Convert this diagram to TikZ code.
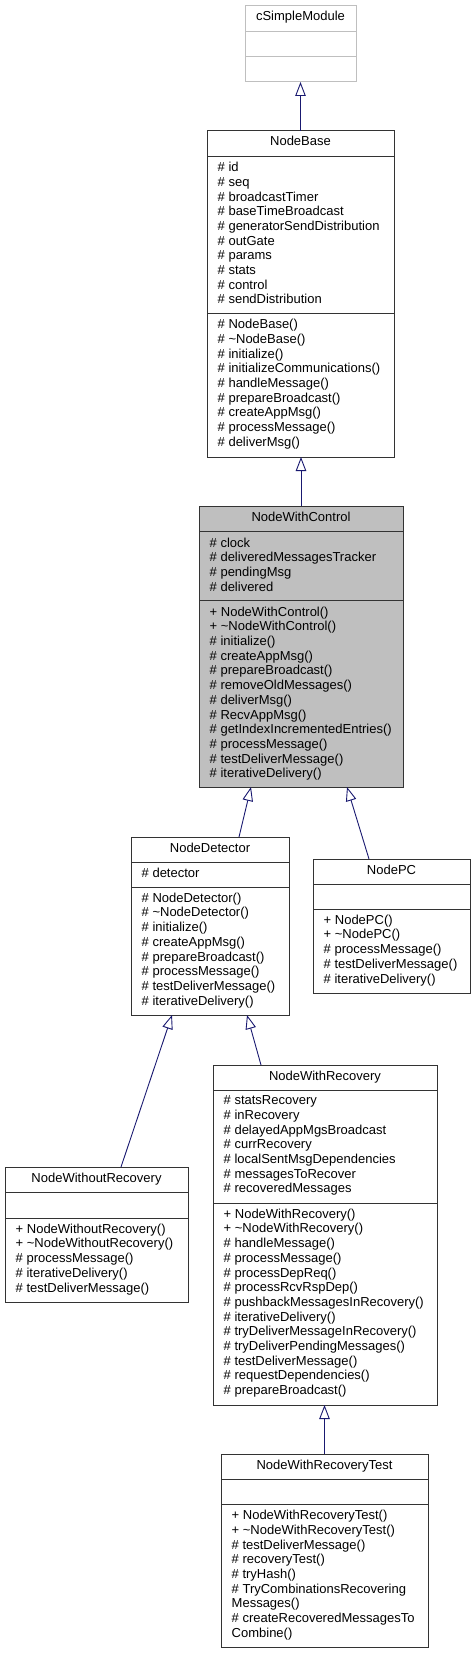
\documentclass[tikz,border=0pt]{standalone}
\usepackage{fontspec}
\setmainfont{Liberation Sans}
\usetikzlibrary{arrows.meta,positioning}
\definecolor{edgeblue}{HTML}{191970}
\definecolor{boxgrey}{HTML}{BFBFBF}
\newcommand{\umlfont}{\fontsize{13}{14.7}\selectfont}

\begin{document}
\begin{tikzpicture}[x=1pt,y=-1pt,
  classbox/.style={draw=black!80,line width=1pt,inner sep=0pt,outer sep=0pt},
  extbox/.style={draw=boxgrey,line width=1pt,inner sep=0pt,outer sep=0pt},
  classname/.style={anchor=base,inner sep=0pt,font=\umlfont},
  members/.style={anchor=north west,inner sep=0pt,align=left,font=\umlfont},
  sepline/.style={black!80,line width=1pt},
  inherit/.style={draw=edgeblue,line width=0.9pt,-{Triangle[open,length=14pt,width=10.5pt]}}]
\useasboundingbox (0,0) rectangle (475,1653);

% class boxes
\node[extbox,minimum width=111pt,minimum height=76pt] (cSimpleModule) at (300.5,44) {};
\node[classbox,minimum width=187pt,minimum height=326pt] (NodeBase) at (300.5,294) {};
\node[classbox,fill=boxgrey,minimum width=204pt,minimum height=281pt] (NodeWithControl) at (301,646.5) {};
\node[classbox,minimum width=158pt,minimum height=178pt] (NodeDetector) at (210,926) {};
\node[classbox,minimum width=157pt,minimum height=134pt] (NodePC) at (391.5,926) {};
\node[classbox,minimum width=183pt,minimum height=135pt] (NodeWithoutRecovery) at (96.5,1234.5) {};
\node[classbox,minimum width=224pt,minimum height=340pt] (NodeWithRecovery) at (325,1235) {};
\node[classbox,minimum width=207pt,minimum height=193pt] (NodeWithRecoveryTest) at (324.5,1550.5) {};

% compartments
\draw[boxgrey,line width=1pt] (cSimpleModule.west |- 0,32) -- (cSimpleModule.east |- 0,32);
\draw[boxgrey,line width=1pt] (cSimpleModule.west |- 0,57) -- (cSimpleModule.east |- 0,57);
\draw[sepline] (NodeBase.west |- 0,156.3) -- (NodeBase.east |- 0,156.3);
\draw[sepline] (NodeBase.west |- 0,313.3) -- (NodeBase.east |- 0,313.3);
\draw[sepline] (NodeWithControl.west |- 0,531.5) -- (NodeWithControl.east |- 0,531.5);
\draw[sepline] (NodeWithControl.west |- 0,600.5) -- (NodeWithControl.east |- 0,600.5);
\draw[sepline] (NodeDetector.west |- 0,862) -- (NodeDetector.east |- 0,862);
\draw[sepline] (NodeDetector.west |- 0,887) -- (NodeDetector.east |- 0,887);
\draw[sepline] (NodePC.west |- 0,884) -- (NodePC.east |- 0,884);
\draw[sepline] (NodePC.west |- 0,909) -- (NodePC.east |- 0,909);
\draw[sepline] (NodeWithoutRecovery.west |- 0,1192) -- (NodeWithoutRecovery.east |- 0,1192);
\draw[sepline] (NodeWithoutRecovery.west |- 0,1218) -- (NodeWithoutRecovery.east |- 0,1218);
\draw[sepline] (NodeWithRecovery.west |- 0,1090) -- (NodeWithRecovery.east |- 0,1090);
\draw[sepline] (NodeWithRecovery.west |- 0,1203) -- (NodeWithRecovery.east |- 0,1203);
\draw[sepline] (NodeWithRecoveryTest.west |- 0,1479) -- (NodeWithRecoveryTest.east |- 0,1479);
\draw[sepline] (NodeWithRecoveryTest.west |- 0,1504.5) -- (NodeWithRecoveryTest.east |- 0,1504.5);

% names
\node[classname] (cSimpleModuleName) at ([yshift=-15pt]cSimpleModule.north) {cSimpleModule};
\node[classname] (NodeBaseName) at ([yshift=-15pt]NodeBase.north) {NodeBase};
\node[classname] (NodeWithControlName) at ([yshift=-15pt]NodeWithControl.north) {NodeWithControl};
\node[classname] (NodeDetectorName) at ([yshift=-15pt]NodeDetector.north) {NodeDetector};
\node[classname] (NodePCName) at ([yshift=-15pt]NodePC.north) {NodePC};
\node[classname] (NodeWithoutRecoveryName) at ([yshift=-15pt]NodeWithoutRecovery.north) {NodeWithoutRecovery};
\node[classname] (NodeWithRecoveryName) at ([yshift=-15pt]NodeWithRecovery.north) {NodeWithRecovery};
\node[classname] (NodeWithRecoveryTestName) at ([yshift=-15pt]NodeWithRecoveryTest.north) {NodeWithRecoveryTest};

% members
\node[members] (NodeBaseAttr) at (217.5,162) {\# id\\\# seq\\\# broadcastTimer\\\# baseTimeBroadcast\\\# generatorSendDistribution\\\# outGate\\\# params\\\# stats\\\# control\\\# sendDistribution};
\node[members] (NodeBaseOps) at (217.5,319) {\# NodeBase()\\\# \textasciitilde NodeBase()\\\# initialize()\\\# initializeCommunications()\\\# handleMessage()\\\# prepareBroadcast()\\\# createAppMsg()\\\# processMessage()\\\# deliverMsg()};
\node[members] (NodeWithControlAttr) at (209.5,537.5) {\# clock\\\# deliveredMessagesTracker\\\# pendingMsg\\\# delivered};
\node[members] (NodeWithControlOps) at (209.5,606.5) {+ NodeWithControl()\\+ \textasciitilde NodeWithControl()\\\# initialize()\\\# createAppMsg()\\\# prepareBroadcast()\\\# removeOldMessages()\\\# deliverMsg()\\\# RecvAppMsg()\\\# getIndexIncrementedEntries()\\\# processMessage()\\\# testDeliverMessage()\\\# iterativeDelivery()};
\node[members] (NodeDetectorAttr) at (141.5,867.6) {\# detector};
\node[members] (NodeDetectorOps) at (141.5,892.6) {\# NodeDetector()\\\# \textasciitilde NodeDetector()\\\# initialize()\\\# createAppMsg()\\\# prepareBroadcast()\\\# processMessage()\\\# testDeliverMessage()\\\# iterativeDelivery()};
\node[members] (NodePCOps) at (323.5,914.6) {+ NodePC()\\+ \textasciitilde NodePC()\\\# processMessage()\\\# testDeliverMessage()\\\# iterativeDelivery()};
\node[members] (NodeWithoutRecoveryOps) at (15.5,1223.6) {+ NodeWithoutRecovery()\\+ \textasciitilde NodeWithoutRecovery()\\\# processMessage()\\\# iterativeDelivery()\\\# testDeliverMessage()};
\node[members] (NodeWithRecoveryAttr) at (223.5,1095.6) {\# statsRecovery\\\# inRecovery\\\# delayedAppMgsBroadcast\\\# currRecovery\\\# localSentMsgDependencies\\\# messagesToRecover\\\# recoveredMessages};
\node[members] (NodeWithRecoveryOps) at (223.5,1208.6) {+ NodeWithRecovery()\\+ \textasciitilde NodeWithRecovery()\\\# handleMessage()\\\# processMessage()\\\# processDepReq()\\\# processRcvRspDep()\\\# pushbackMessagesInRecovery()\\\# iterativeDelivery()\\\# tryDeliverMessageInRecovery()\\\# tryDeliverPendingMessages()\\\# testDeliverMessage()\\\# requestDependencies()\\\# prepareBroadcast()};
\node[members] (NodeWithRecoveryTestOps) at (231.5,1510) {+ NodeWithRecoveryTest()\\+ \textasciitilde NodeWithRecoveryTest()\\\# testDeliverMessage()\\\# recoveryTest()\\\# tryHash()\\\# TryCombinationsRecovering\\Messages()\\\# createRecoveredMessagesTo\\Combine()};

% inheritance
\draw[inherit] (NodeBase.north) -- (NodeBase.north |- cSimpleModule.south);
\draw[inherit] (NodeWithControl.north) -- (NodeWithControl.north |- NodeBase.south);
\draw[inherit] ([xshift=29pt]NodeDetector.north) -- ([xshift=-50pt]NodeWithControl.south);
\draw[inherit] ([xshift=-22.5pt]NodePC.north) -- ([xshift=46pt]NodeWithControl.south);
\draw[inherit] ([xshift=24.5pt]NodeWithoutRecovery.north) -- ([xshift=-38pt]NodeDetector.south);
\draw[inherit] ([xshift=-64pt]NodeWithRecovery.north) -- ([xshift=37pt]NodeDetector.south);
\draw[inherit] (NodeWithRecoveryTest.north) -- (NodeWithRecoveryTest.north |- NodeWithRecovery.south);
\end{tikzpicture}
\end{document}
